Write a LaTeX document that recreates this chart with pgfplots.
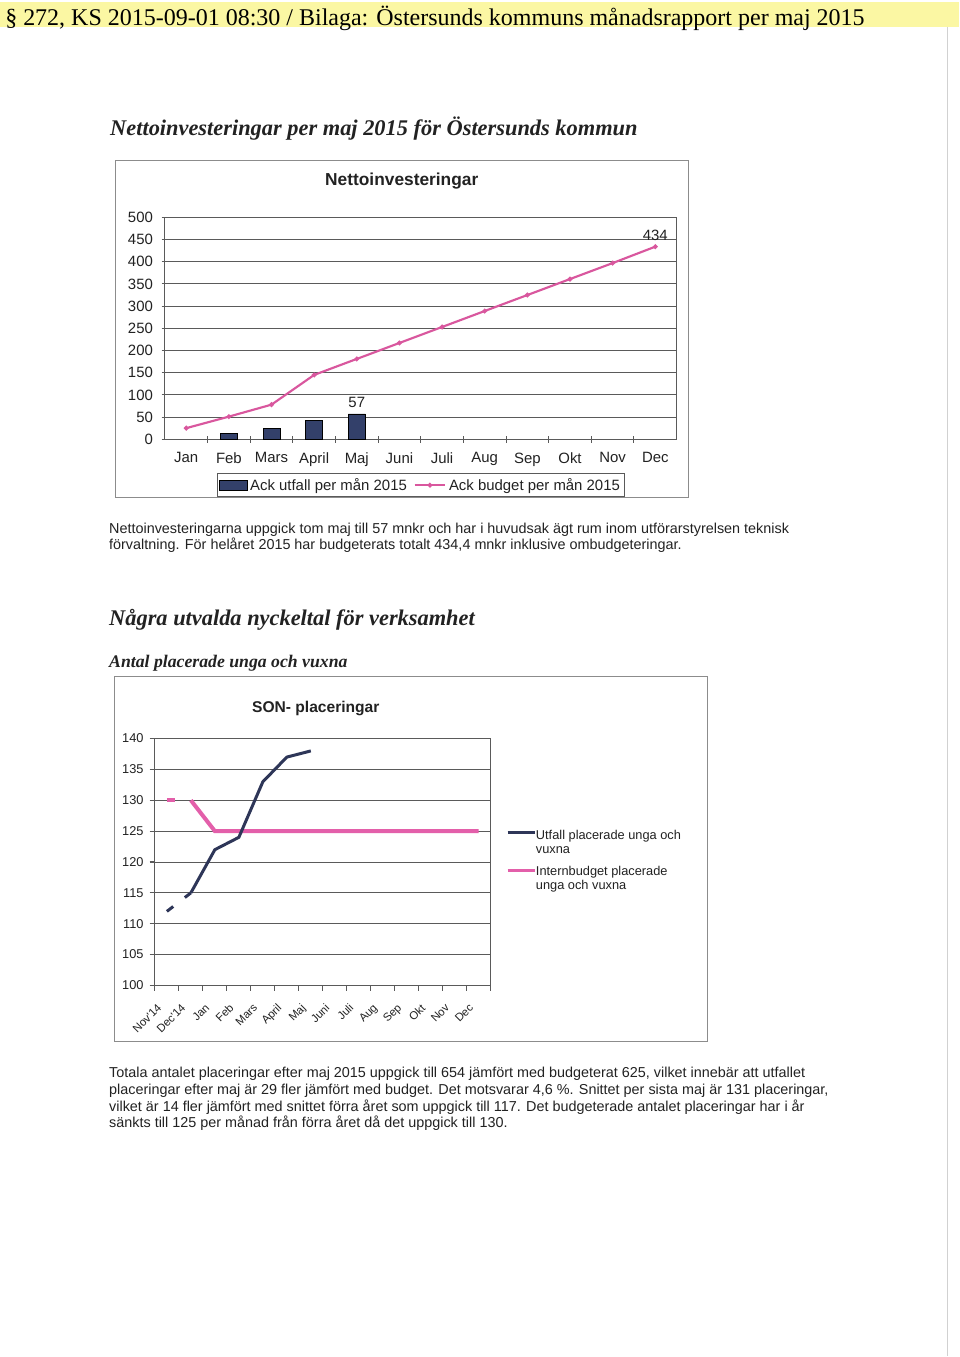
\documentclass[border=0pt]{standalone}
\usepackage{pgfplots}
\pgfplotsset{compat=1.18}
\usepackage{fontspec}
\setmainfont{Liberation Serif}
\newfontfamily\arial{Liberation Sans}
\definecolor{band}{HTML}{FBF7A3}
\definecolor{framec}{HTML}{8C8C8C}
\definecolor{gridc}{HTML}{5A5A5A}
\definecolor{navy}{HTML}{33406A}
\definecolor{pinkA}{HTML}{D9579E}
\definecolor{pinkB}{HTML}{E35FAA}
\definecolor{darkline}{HTML}{2E3658}
\definecolor{txt}{HTML}{222222}
\newcommand\body{\arial\fontsize{10.8}{13}\selectfont}
\pgfplotsset{
  barlegend/.style={legend image code/.code={\draw[##1] (0pt,-3.5pt) rectangle (21pt,4pt);}},
  linelegend/.style={legend image code/.code={\draw[mark repeat=2,mark phase=2,##1] plot coordinates {(0pt,0pt) (11.5pt,0pt) (23pt,0pt)};}},
}
\begin{document}
\begin{tikzpicture}[x=0.75pt,y=-0.75pt]
\fill[white] (0,0) rectangle (960,1357);
\fill[band] (0,2) rectangle (960,27);
\draw[black!18, line width=1.2pt] (948,27) -- (948,1357);
\node[anchor=base west, inner sep=0, font=\fontsize{18}{20}\selectfont] at (5,26) {§ 272, KS 2015-09-01 08:30 / Bilaga: Östersunds kommuns månadsrapport per maj 2015};
\node[anchor=base west, inner sep=0, font=\fontsize{16.8}{18}\selectfont\bfseries\itshape, text=txt] at (110,136) {Nettoinvesteringar per maj 2015 för Östersunds kommun};
% chart 1 frame
\draw[framec, line width=0.8pt] (116,161) rectangle (689,498);
\node[font=\arial\bfseries\fontsize{13}{15}\selectfont, text=txt, anchor=base] at (402,186) {Nettoinvesteringar};
\begin{axis}[
  at={(123.75pt,-329.625pt)}, anchor=south west,
  scale only axis, width=384pt, height=166.5pt,
  xmin=0.5, xmax=12.5, ymin=0, ymax=500,
  xtick={1,...,12},
  xticklabels={Jan,Feb,Mars,April,Maj,Juni,Juli,Aug,Sep,Okt,Nov,Dec},
  major x tick style={draw=none},
  minor xtick={1.5,2.5,...,11.5},
  minor tick length=5pt,
  major tick length=5pt,
  tick align=center,
  ytick={0,50,...,500},
  ymajorgrids, grid style={gridc, line width=0.7pt},
  axis line style={gridc, line width=0.8pt},
  tick style={gridc, line width=0.8pt},
  xtick pos=bottom, ytick pos=left,
  /pgf/number format/assume math mode=true,
  ticklabel style={font=\arial\fontsize{11.2}{13}\selectfont, text=txt},
  xticklabel style={yshift=-4pt},
  yticklabel style={xshift=-3pt},
  legend columns=2,
  legend style={at={(0.5,-0.207)}, anchor=center, draw=gridc, line width=0.6pt,
    font=\arial\fontsize{11.2}{13}\selectfont, text=txt, inner sep=1.5pt,
    /tikz/every even column/.append style={column sep=3pt}},
  legend cell align=left,
]
\addplot[ybar, bar width=12.75pt, fill=navy, draw=black, line width=0.4pt, barlegend]
  coordinates {(2,14) (3,25) (4,42) (5,57)};
\addlegendentry{Ack utfall per mån 2015}
\addplot[color=pinkA, line width=1.6pt, mark=*, mark size=0.9pt,
  mark options={fill=darkline, draw=none}, linelegend]
  coordinates {(1,25) (2,51) (3,78) (4,145) (5,181) (6,217) (7,253) (8,289) (9,325) (10,361) (11,397) (12,434)};
\addlegendentry{Ack budget per mån 2015}
\node[anchor=south, font=\arial\fontsize{11.2}{13}\selectfont, text=txt, yshift=1pt] at (axis cs:5,57) {57};
\node[anchor=south, font=\arial\fontsize{11.2}{13}\selectfont, text=txt, yshift=1pt] at (axis cs:12,434) {434};
\end{axis}
% paragraph 1
\node[anchor=base west, inner sep=0, font=\body, text=txt] at (109,534) {Nettoinvesteringarna uppgick tom maj till 57 mnkr och har i huvudsak ägt rum inom utförarstyrelsen teknisk};
\node[anchor=base west, inner sep=0, font=\body, text=txt] at (109,550) {förvaltning. För helåret 2015 har budgeterats totalt 434,4 mnkr inklusive ombudgeteringar.};
\node[anchor=base west, inner sep=0, font=\fontsize{16.8}{18}\selectfont\bfseries\itshape, text=txt] at (109,626) {Några utvalda nyckeltal för verksamhet};
\node[anchor=base west, inner sep=0, font=\fontsize{13.3}{15}\selectfont\bfseries\itshape, text=txt] at (109,668) {Antal placerade unga och vuxna};
% chart 2 frame
\draw[framec, line width=0.8pt] (115,677) rectangle (708,1042);
\node[font=\arial\bfseries\fontsize{11.7}{13}\selectfont, text=txt, anchor=base] at (316,713) {SON- placeringar};
\begin{axis}[
  at={(116.25pt,-739.5pt)}, anchor=south west,
  scale only axis, width=252pt, height=185.25pt,
  xmin=0.5, xmax=14.5, ymin=100, ymax=140,
  xtick={1,...,14},
  xticklabels={Nov'14,Dec'14,Jan,Feb,Mars,April,Maj,Juni,Juli,Aug,Sep,Okt,Nov,Dec},
  major x tick style={draw=none},
  minor xtick={0.5,1.5,...,14.5},
  minor tick length=4pt, major tick length=4pt,
  tick align=outside,
  ytick={100,105,...,140},
  ymajorgrids, grid style={gridc, line width=0.7pt},
  axis line style={gridc, line width=0.8pt},
  tick style={gridc, line width=0.8pt},
  xtick pos=bottom, ytick pos=left,
  /pgf/number format/assume math mode=true,
  ticklabel style={font=\arial\fontsize{9.6}{11}\selectfont, text=txt},
  xticklabel style={rotate=45, anchor=north east, font=\arial\fontsize{8.5}{10}\selectfont, yshift=2.5pt, xshift=-8.5pt},
  yticklabel style={xshift=-1pt},
]
\addplot[color=pinkB, line width=3pt, dash pattern=on 6pt off 30pt] coordinates {(1,130) (2,130)};
\addplot[color=pinkB, line width=3pt] coordinates {(2,130) (3,125) (4,125) (5,125) (6,125) (7,125) (8,125) (9,125) (10,125) (11,125) (12,125) (13,125) (14,125)};
\addplot[color=darkline, line width=2.25pt, dash pattern=on 6pt off 11pt on 10pt] coordinates {(1,112) (2,115)};
\addplot[color=darkline, line width=2.25pt] coordinates {(2,115) (3,122) (4,124) (5,133) (6,137) (7,138)};
\end{axis}
% legend chart 2
\draw[darkline, line width=2.25pt] (508,833) -- (535,833);
\draw[pinkB, line width=3pt] (508,871) -- (535,871);
\node[anchor=base west, inner sep=0, font=\arial\fontsize{9.6}{11}\selectfont, text=txt] at (536,840) {Utfall placerade unga och};
\node[anchor=base west, inner sep=0, font=\arial\fontsize{9.6}{11}\selectfont, text=txt] at (536,854) {vuxna};
\node[anchor=base west, inner sep=0, font=\arial\fontsize{9.6}{11}\selectfont, text=txt] at (536,876) {Internbudget placerade};
\node[anchor=base west, inner sep=0, font=\arial\fontsize{9.6}{11}\selectfont, text=txt] at (536,890) {unga och vuxna};
% paragraph 2
\node[anchor=base west, inner sep=0, font=\body, text=txt] at (109,1078) {Totala antalet placeringar efter maj 2015 uppgick till 654 jämfört med budgeterat 625, vilket innebär att utfallet};
\node[anchor=base west, inner sep=0, font=\body, text=txt] at (109,1095) {placeringar efter maj är 29 fler jämfört med budget. Det motsvarar 4,6 \%. Snittet per sista maj är 131 placeringar,};
\node[anchor=base west, inner sep=0, font=\body, text=txt] at (109,1112) {vilket är 14 fler jämfört med snittet förra året som uppgick till 117. Det budgeterade antalet placeringar har i år};
\node[anchor=base west, inner sep=0, font=\body, text=txt] at (109,1128) {sänkts till 125 per månad från förra året då det uppgick till 130.};
\end{tikzpicture}
\end{document}
